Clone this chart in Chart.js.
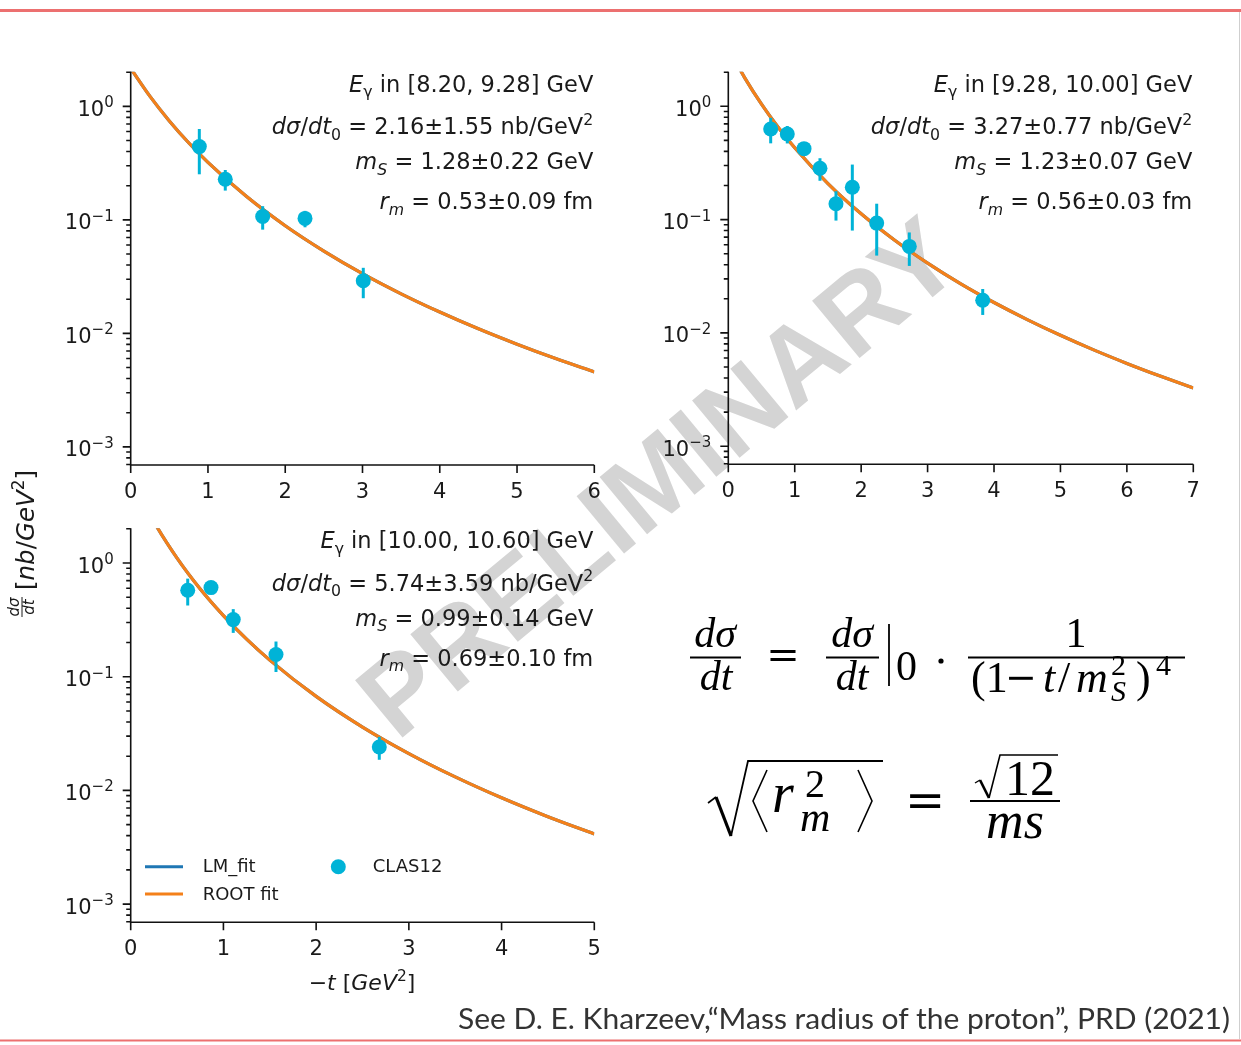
<!DOCTYPE html>
<html>
<head>
<meta charset="utf-8">
<script src="https://cdn.jsdelivr.net/npm/chart.js@4.4.1/dist/chart.umd.min.js"></script>
<style>
  html, body { margin: 0; padding: 0; background: #fff; }
  #page { position: relative; width: 1241px; height: 1045px; overflow: hidden; background: #fff; }
  canvas { position: absolute; z-index: 1; }
  svg { position: absolute; left: 0; top: 0; }
  #under { z-index: 0; }
  #over { z-index: 2; pointer-events: none; }
</style>
</head>
<body>
<div id="page">
  <!-- watermark sits underneath the plots -->
  <svg id="under" width="1241" height="1045">
    <text transform="translate(657,476) rotate(-39.7)" x="0" y="38.5" text-anchor="middle"
          font-family="Liberation Sans, Arial, sans-serif" font-weight="bold" font-size="108"
          fill="#d4d4d4">PRELIMINARY</text>
  </svg>

  <canvas id="c1" width="570" height="450" style="left:40px;top:60px"></canvas>
  <canvas id="c2" width="570" height="450" style="left:640px;top:60px"></canvas>
  <canvas id="c3" width="570" height="450" style="left:40px;top:516px"></canvas>

  <svg id="over" width="1241" height="1045" font-family="DejaVu Sans, sans-serif">
    <!-- slide frame -->
    <rect x="0" y="9" width="1241" height="3" fill="#ec7070"/>
    <rect x="0" y="1039.5" width="1241" height="2" fill="#ec7070"/>
    <line x1="1239.5" y1="12" x2="1239.5" y2="1039" stroke="#cfcfcf" stroke-width="1"/>

    <!-- shared y-axis label -->
    <g transform="translate(34,617) rotate(-90)" fill="#1a1a1a">
      <text x="10" y="-15.5" font-size="15" text-anchor="middle" font-style="italic">dσ</text>
      <line x1="0" x2="20" y1="-12" y2="-12" stroke="#1a1a1a" stroke-width="1"/>
      <text x="10" y="-0.5" font-size="15" text-anchor="middle" font-style="italic">dt</text>
      <text x="27" y="0" font-size="24.5" xml:space="preserve">[<tspan font-style="italic">nb</tspan>/<tspan font-style="italic">GeV</tspan><tspan font-size="17" dy="-10">2</tspan><tspan dy="10">]</tspan></text>
    </g>

    <!-- x-axis label of the lower panel -->
    <text x="362" y="990" text-anchor="middle" font-size="22" fill="#1a1a1a" xml:space="preserve">−<tspan font-style="italic">t</tspan> [<tspan font-style="italic">GeV</tspan><tspan font-size="15.4" dy="-9">2</tspan><tspan dy="9">]</tspan></text>

    <!-- fit model -->
    <g font-family="Liberation Serif, serif" font-size="42" fill="#000" stroke="none">
      <text x="715" y="647" text-anchor="middle" font-style="italic">dσ</text>
      <line x1="690" x2="741" y1="657.5" y2="657.5" stroke="#000" stroke-width="1.8"/>
      <text x="716" y="690" text-anchor="middle" font-style="italic">dt</text>
      <text x="783" y="668" text-anchor="middle" font-family="DejaVu Serif, serif" font-size="40">=</text>
      <text x="852" y="647" text-anchor="middle" font-style="italic">dσ</text>
      <line x1="826" x2="879" y1="657.5" y2="657.5" stroke="#000" stroke-width="1.8"/>
      <text x="852" y="690" text-anchor="middle" font-style="italic">dt</text>
      <line x1="889" x2="889" y1="624" y2="686" stroke="#000" stroke-width="1.8"/>
      <text x="896" y="680">0</text>
      <circle cx="941" cy="661" r="2.6" fill="#000"/>
      <text x="1076" y="647" text-anchor="middle">1</text>
      <line x1="968" x2="1185" y1="657.5" y2="657.5" stroke="#000" stroke-width="1.8"/>
      <g font-size="44">
        <text x="971" y="692">(1</text>
        <text x="1021" y="690" text-anchor="middle" font-family="DejaVu Serif, serif" font-size="38">−</text>
        <text x="1043" y="692" font-style="italic">t</text>
        <text x="1058" y="692">/</text>
        <text x="1076" y="692" font-style="italic">m</text>
        <text x="1111" y="701" font-size="30" font-style="italic">S</text>
        <text x="1111" y="675" font-size="30">2</text>
        <text x="1136" y="692">)</text>
        <text x="1156" y="675" font-size="30">4</text>
      </g>
    </g>

    <!-- mass radius relation -->
    <g font-family="Liberation Serif, serif" font-size="50" fill="#000">
      <path d="M708 803 L716 797" stroke="#000" stroke-width="1.6" fill="none"/>
      <path d="M716 797 L731 836" stroke="#000" stroke-width="3.2" fill="none"/>
      <path d="M731 836 L748 761 L883 761" stroke="#000" stroke-width="1.8" fill="none"/>
      <path d="M767 770 L753 801 L767 832" stroke="#000" stroke-width="1.6" fill="none"/>
      <text x="772" y="812" font-size="56" font-style="italic">r</text>
      <text x="805" y="797" font-size="40">2</text>
      <text x="800" y="831" font-size="42" font-style="italic">m</text>
      <path d="M858 770 L872 801 L858 832" stroke="#000" stroke-width="1.6" fill="none"/>
      <text x="925" y="817" text-anchor="middle" font-family="DejaVu Serif, serif" font-size="48">=</text>
      <path d="M975 783 L980 780" stroke="#000" stroke-width="1.4" fill="none"/>
      <path d="M980 780 L989 798" stroke="#000" stroke-width="2.6" fill="none"/>
      <path d="M989 798 L1000 755 L1058 755" stroke="#000" stroke-width="1.6" fill="none"/>
      <text x="1030" y="795" text-anchor="middle">12</text>
      <line x1="970" x2="1060" y1="801" y2="801" stroke="#000" stroke-width="1.8"/>
      <text x="1015" y="838" text-anchor="middle" font-size="52" font-style="italic">ms</text>
    </g>

    <!-- reference -->
    <text x="458" y="1029" font-family="Lato, Open Sans, sans-serif" font-size="28" fill="#333"
          textLength="772" lengthAdjust="spacingAndGlyphs">See D. E. Kharzeev,“Mass radius of the proton”, PRD (2021)</text>
  </svg>
</div>

<script>
// ---- fit parameters shown in each panel ----
const energyBins = ['8.20, 9.28', '9.28, 10.00', '10.00, 10.60'];
const dsdt0Text  = ['2.16±1.55', '3.27±0.77', '5.74±3.59'];
const mSText     = ['1.28±0.22', '1.23±0.07', '0.99±0.14'];
const rmText     = ['0.53±0.09', '0.56±0.03', '0.69±0.10'];

// ---- axis ticks ----
const yTickValues = [1e-3, 1e-2, 1e-1, 1];
const yTickBase = '10';
const yTickExps = ['−3', '−2', '−1', '0'];
const xMaxes = [6, 7, 5];
const Y_MIN = 6.92e-4, Y_MAX = 2.02;

// ---- CLAS12 measurements: -t [GeV^2], dσ/dt [nb/GeV^2], uncertainty ----
const t1 = [0.888, 1.224, 1.708, 2.256, 3.01];
const y1 = [0.442, 0.228, 0.107, 0.103, 0.0291];
const e1 = [0.19, 0.047, 0.025, 0.017, 0.0087];

const t2 = [0.638, 0.888, 1.14, 1.38, 1.621, 1.867, 2.234, 2.725, 3.83];
const y2 = [0.631, 0.570, 0.423, 0.284, 0.138, 0.193, 0.0931, 0.058, 0.0194];
const e2 = [0.16, 0.10, 0.056, 0.064, 0.04, 0.113, 0.045, 0.019, 0.005];

const t3 = [0.615, 0.866, 1.106, 1.567, 2.681];
const y3 = [0.576, 0.608, 0.318, 0.157, 0.0241];
const e3 = [0.153, 0.05, 0.075, 0.047, 0.0055];

// ---- fitted curves (ROOT fit; LM fit coincides) ----
const tFit1 = [0, 0.25, 0.5, 0.75, 1, 1.5, 2, 2.5, 3, 3.5, 4, 4.5, 5, 5.5, 6];
const fit1  = [2.16, 1.224, 0.744, 0.478, 0.321, 0.1604, 0.0888, 0.0531, 0.0336, 0.0223, 0.0154, 0.01096, 0.00802, 0.00599, 0.00457];

const tFit2 = [0, 0.25, 0.5, 0.75, 1, 1.5, 2, 2.5, 3, 3.5, 4, 4.5, 5, 5.5, 6, 6.5, 7];
const fit2  = [3.27, 1.774, 1.044, 0.653, 0.430, 0.2079, 0.1125, 0.0661, 0.0413, 0.0271, 0.01855, 0.01311, 0.00952, 0.00708, 0.00538, 0.00416, 0.00326];

const tFit3 = [0, 0.25, 0.5, 0.75, 1, 1.25, 1.5, 2, 2.5, 3, 3.5, 4, 4.5, 5];
const fit3  = [5.74, 2.313, 1.104, 0.591, 0.345, 0.214, 0.140, 0.0672, 0.0361, 0.0211, 0.01315, 0.00861, 0.00587, 0.00414];

const CYAN = '#00b3d7';
const ORANGE = '#f4801a';
const BLUE = '#1f77b4';
const TEXT = '#1a1a1a';

// vertical error bars, drawn right before the markers
const errorBarPlugin = {
  id: 'errorBars',
  beforeDatasetDraw(chart, args) {
    const ds = chart.data.datasets[args.index];
    if (!ds.errorBars) return;
    const { ctx, scales: { x, y } } = chart;
    ctx.save();
    ctx.strokeStyle = ds.pointBackgroundColor;
    ctx.lineWidth = 3;
    ds.data.forEach((p, i) => {
      const px = x.getPixelForValue(p.x);
      ctx.beginPath();
      ctx.moveTo(px, y.getPixelForValue(p.y + ds.errorBars[i]));
      ctx.lineTo(px, y.getPixelForValue(Math.max(p.y - ds.errorBars[i], Y_MIN)));
      ctx.stroke();
    });
    ctx.restore();
  }
};

// left/bottom spines, major + minor tick marks, power-of-ten labels
const spinePlugin = {
  id: 'spines',
  afterDatasetsDraw(chart) {
    const { ctx, chartArea: a, scales: { x, y } } = chart;
    ctx.save();
    ctx.strokeStyle = '#111';
    ctx.lineCap = 'butt';
    ctx.lineWidth = 1.6;
    ctx.beginPath();
    ctx.moveTo(a.left, a.top); ctx.lineTo(a.left, a.bottom + 0.8);
    ctx.moveTo(a.left - 0.8, a.bottom); ctx.lineTo(a.right, a.bottom);
    ctx.stroke();
    ctx.beginPath();
    for (let ex = -4; ex <= 1; ex++) {
      for (let m = 1; m <= 9; m++) {
        const v = m * Math.pow(10, ex);
        if (v < y.min || v > y.max) continue;
        const py = y.getPixelForValue(v);
        ctx.moveTo(a.left - (m === 1 ? 8 : 4.5), py);
        ctx.lineTo(a.left, py);
      }
    }
    x.ticks.forEach(tk => {
      const px = x.getPixelForValue(tk.value);
      ctx.moveTo(px, a.bottom);
      ctx.lineTo(px, a.bottom + 8);
    });
    ctx.stroke();

    // y tick labels as 10 with a raised exponent
    ctx.fillStyle = TEXT;
    ctx.textBaseline = 'alphabetic';
    ctx.textAlign = 'left';
    const baseFont = '21px "DejaVu Sans"', expFont = '15px "DejaVu Sans"';
    yTickValues.forEach((v, k) => {
      if (v < y.min || v > y.max) return;
      const py = y.getPixelForValue(v);
      ctx.font = expFont;
      const we = ctx.measureText(yTickExps[k]).width;
      ctx.font = baseFont;
      const wb = ctx.measureText(yTickBase).width;
      const right = a.left - 17;
      ctx.fillText(yTickBase, right - we - wb, py + 9.5);
      ctx.font = expFont;
      ctx.fillText(yTickExps[k], right - we, py + 1);
    });
    ctx.restore();
  }
};

// two-column legend in the lower-left corner of a panel
const legendPlugin = {
  id: 'cornerLegend',
  afterDraw(chart, args, opts) {
    if (!opts.show) return;
    const { ctx, chartArea: a } = chart;
    const byLabel = {};
    chart.data.datasets.forEach(d => { byLabel[d.label] = d; });
    ctx.save();
    ctx.font = '18px "DejaVu Sans"';
    ctx.fillStyle = TEXT;
    ctx.textBaseline = 'middle';
    const rows = [a.bottom - 55.6, a.bottom - 28.3];
    ['LM_fit', 'ROOT fit'].forEach((lbl, i) => {
      ctx.strokeStyle = byLabel[lbl].borderColor;
      ctx.lineWidth = 3;
      ctx.beginPath();
      ctx.moveTo(a.left + 14.3, rows[i]);
      ctx.lineTo(a.left + 52.3, rows[i]);
      ctx.stroke();
      ctx.fillText(lbl, a.left + 72, rows[i] + 1);
    });
    const pts = byLabel['CLAS12'];
    ctx.fillStyle = pts.pointBackgroundColor;
    ctx.beginPath();
    ctx.arc(a.left + 207.6, rows[0], 7.5, 0, Math.PI * 2);
    ctx.fill();
    ctx.fillStyle = TEXT;
    ctx.fillText('CLAS12', a.left + 242, rows[0] + 1);
    ctx.restore();
  }
};

function pairs(xs, ys) { return xs.map((v, i) => ({ x: v, y: ys[i] })); }

function makePanel(id, d) {
  return new Chart(document.getElementById(id), {
    type: 'line',
    data: {
      datasets: [
        { label: 'CLAS12', data: pairs(d.t, d.y), errorBars: d.e, showLine: false,
          pointRadius: 7.5, pointBackgroundColor: CYAN, pointBorderWidth: 0, pointBorderColor: CYAN, order: 0 },
        { label: 'ROOT fit', data: pairs(d.tFit, d.fit), borderColor: ORANGE, borderWidth: 3.2,
          pointRadius: 0, cubicInterpolationMode: 'monotone', fill: false, clip: 0, order: 1 },
        { label: 'LM_fit', data: pairs(d.tFit, d.fit), borderColor: BLUE, borderWidth: 3.2,
          pointRadius: 0, cubicInterpolationMode: 'monotone', fill: false, clip: 0, order: 2 }
      ]
    },
    options: {
      responsive: false,
      animation: false,
      devicePixelRatio: 1,
      events: [],
      layout: { padding: { left: 0, top: d.padTop, right: d.padRight, bottom: 0 } },
      plugins: { legend: { display: false }, tooltip: { enabled: false }, cornerLegend: { show: !!d.legend } },
      scales: {
        x: {
          type: 'linear', min: 0, max: d.xMax,
          grid: { display: false, drawTicks: true, tickLength: 8 },
          border: { display: false },
          ticks: { stepSize: 1, autoSkip: false, maxRotation: 0, padding: 7, color: TEXT,
                   font: { family: 'DejaVu Sans', size: 21 } },
          afterFit(s) { s.height = d.xAxisH; s.paddingLeft = 0; s.paddingRight = 0; }
        },
        y: {
          type: 'logarithmic', min: Y_MIN, max: Y_MAX,
          grid: { display: false, drawTicks: true, tickLength: 8 },
          border: { display: false },
          afterBuildTicks(s) { s.ticks = yTickValues.map(v => ({ value: v })); },
          ticks: { display: false },
          afterFit(s) { s.width = d.yAxisW; s.paddingTop = 0; s.paddingBottom = 0; }
        }
      }
    },
    plugins: [errorBarPlugin, spinePlugin, legendPlugin]
  });
}

const charts = [
  makePanel('c1', { t: t1, y: y1, e: e1, tFit: tFit1, fit: fit1, xMax: xMaxes[0],
                    yAxisW: 90.7, xAxisH: 45, padTop: 11.7, padRight: 15.7 }),
  makePanel('c2', { t: t2, y: y2, e: e2, tFit: tFit2, fit: fit2, xMax: xMaxes[1],
                    yAxisW: 88.3, xAxisH: 45.7, padTop: 11.7, padRight: 16.7 }),
  makePanel('c3', { t: t3, y: y3, e: e3, tFit: tFit3, fit: fit3, xMax: xMaxes[2],
                    yAxisW: 90.7, xAxisH: 43.7, padTop: 12.3, padRight: 15.7, legend: true })
];

// ---- panel annotations (SVG text next to each chart) ----
const SVGNS = 'http://www.w3.org/2000/svg';
const over = document.getElementById('over');

function el(tag, attrs, parent) {
  const n = document.createElementNS(SVGNS, tag);
  for (const k in attrs) n.setAttribute(k, attrs[k]);
  if (parent) parent.appendChild(n);
  return n;
}

function richText(parent, x, y, anchor, size, segs) {
  const t = el('text', { x, y, 'text-anchor': anchor, 'font-size': size, fill: TEXT }, parent);
  t.setAttributeNS('http://www.w3.org/XML/1998/namespace', 'xml:space', 'preserve');
  let cur = 0;
  segs.forEach(([str, st]) => {
    let shift = 0, fs = size;
    if (st.includes('sub')) { shift = 0.24 * size; fs = 0.7 * size; }
    if (st.includes('sup')) { shift = -0.42 * size; fs = 0.7 * size; }
    const sp = el('tspan', { dy: shift - cur, 'font-size': fs }, t);
    cur = shift;
    if (st.startsWith('i')) sp.setAttribute('font-style', 'italic');
    sp.textContent = str;
  });
}

const canvasOrigins = [[40, 60], [640, 60], [40, 516]];
charts.forEach((ch, k) => {
  const a = ch.chartArea;
  const xr = canvasOrigins[k][0] + a.right - 1;
  const y0 = canvasOrigins[k][1] + a.top;
  const S = 22.5;
  richText(over, xr, y0 + 20, 'end', S, [['E', 'i'], ['γ', 'sub'], [' in [' + energyBins[k] + '] GeV', '']]);
  richText(over, xr, y0 + 62.5, 'end', S, [['dσ', 'i'], ['/', ''], ['dt', 'i'], ['0', 'sub'],
                                             [' = ' + dsdt0Text[k] + ' nb/GeV', ''], ['2', 'sup']]);
  richText(over, xr, y0 + 97.5, 'end', S, [['m', 'i'], ['S', 'isub'], [' = ' + mSText[k] + ' GeV', '']]);
  richText(over, xr, y0 + 137.5, 'end', S, [['r', 'i'], ['m', 'isub'], [' = ' + rmText[k] + ' fm', '']]);
});
</script>
</body>
</html>
